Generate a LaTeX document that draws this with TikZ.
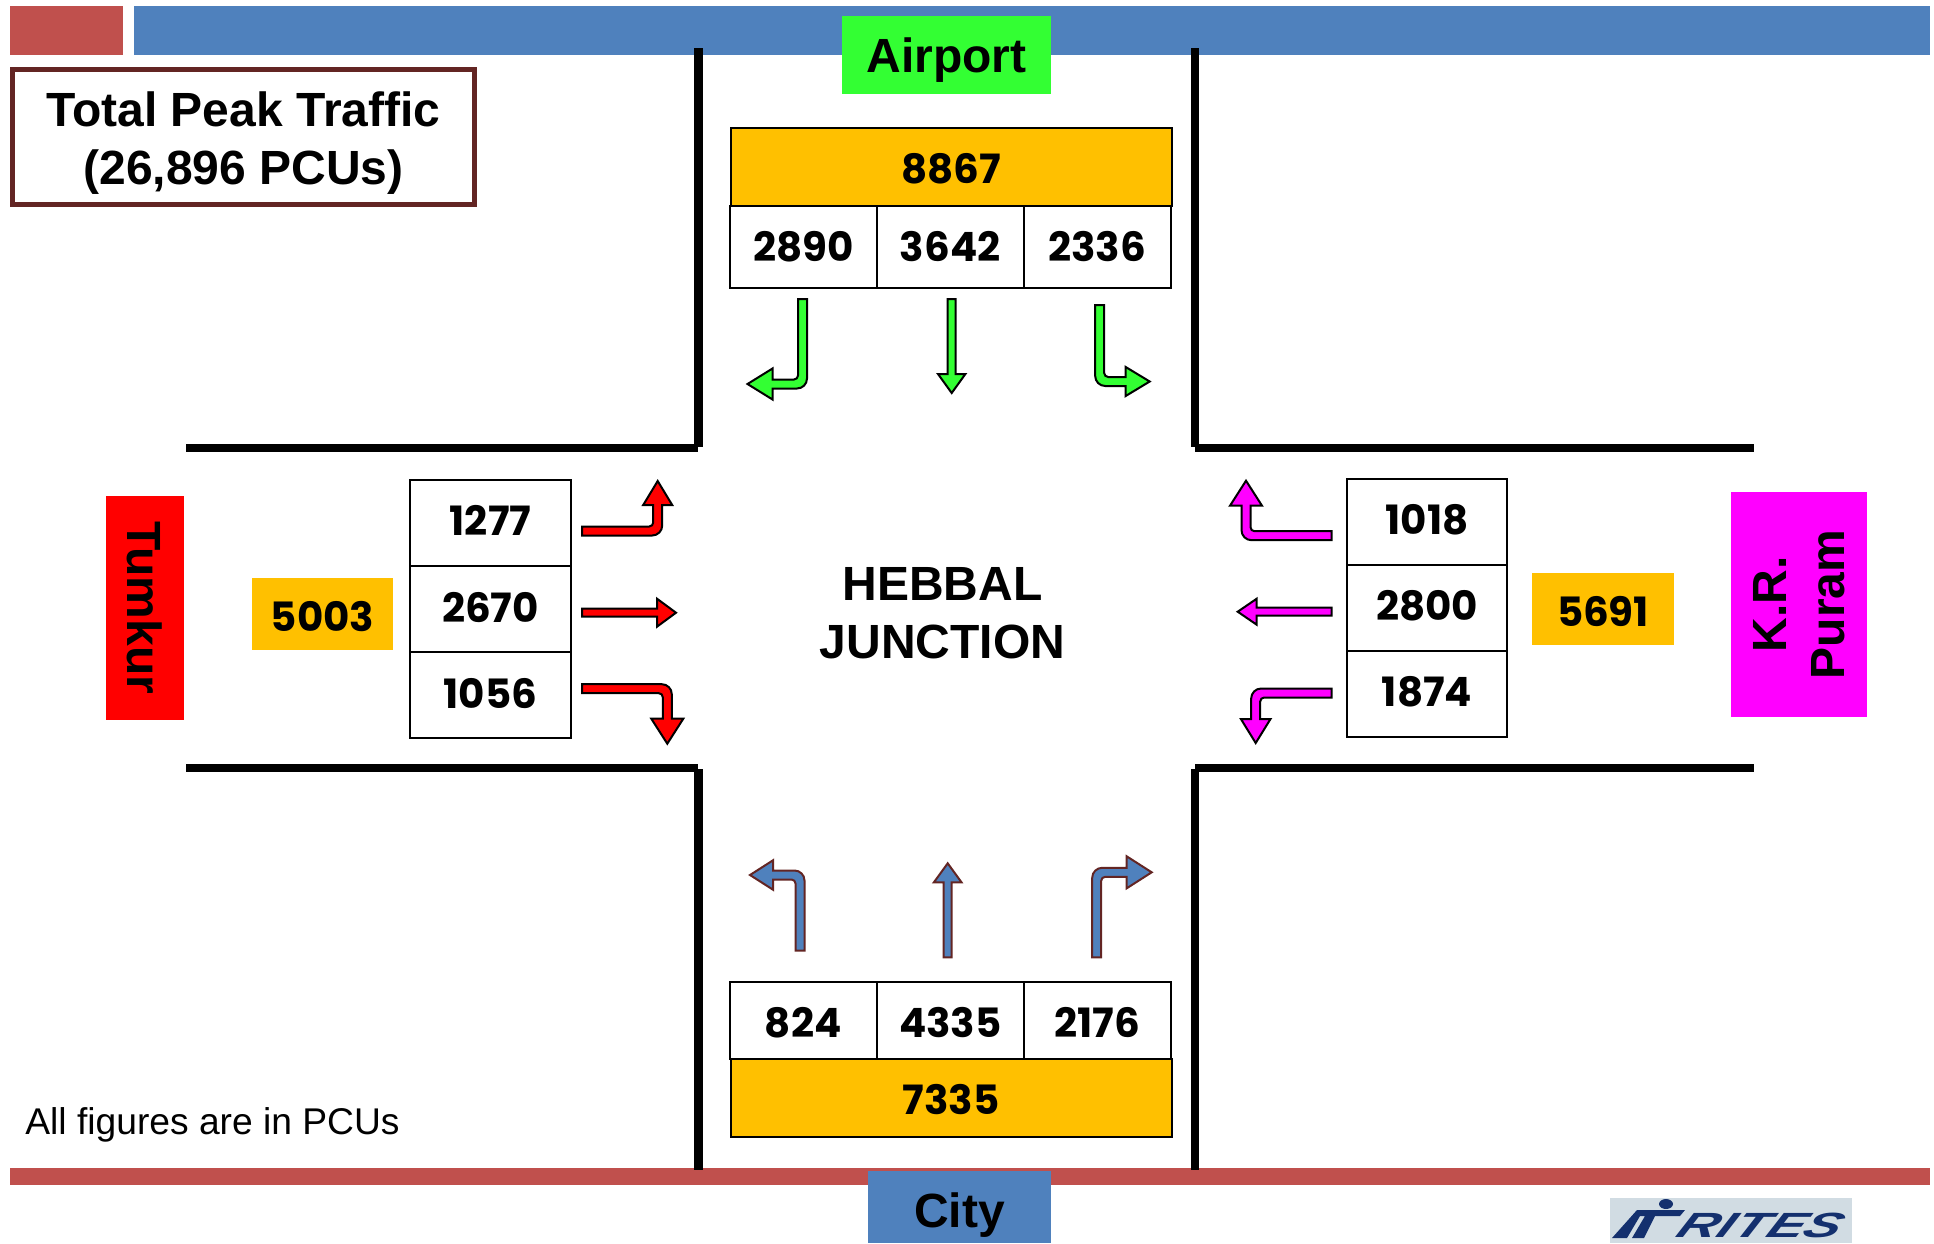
\documentclass[tikz,border=0pt]{standalone}
\usepackage{fontspec}
\usepackage{tikz}
\usetikzlibrary{positioning}
\setmainfont{Liberation Sans}
\newfontfamily\numfont{Poppins}
\definecolor{barblue}{HTML}{4F81BD}
\definecolor{barred}{HTML}{C0504D}
\definecolor{darkred}{HTML}{632523}
\definecolor{gold}{HTML}{FFC000}
\definecolor{signgreen}{HTML}{33FF33}
\definecolor{signpink}{HTML}{FF00FF}
\definecolor{signred}{HTML}{FF0000}
\definecolor{logogrey}{HTML}{D1DCE3}
\definecolor{logonavy}{HTML}{14306E}
\newcommand{\nudge}[2]{\raisebox{#1}[\height][\depth]{#2}}
% style, start, first direction, turn direction, run, rise, head length, head half width
\newcommand{\bendarrow}[8]{%
  \begin{scope}[shift={(#2)},x={(#3:0.5pt)},y={(#4:0.5pt)}]
    \filldraw[#1] (0,-4.5) [rounded corners=5pt] -- ({#5+4.5},-4.5) [sharp corners]
      -- ({#5+4.5},{#6-#7}) -- ({#5+#8},{#6-#7}) -- (#5,#6) -- ({#5-#8},{#6-#7})
      -- ({#5-4.5},{#6-#7}) [rounded corners=2pt] -- ({#5-4.5},4.5) [sharp corners] -- (0,4.5) -- cycle;
  \end{scope}}
% style, start, direction, length, head length, head half width
\newcommand{\flowarrow}[6]{%
  \begin{scope}[shift={(#2)},x={(#3:0.5pt)},y={(#3+90:0.5pt)}]
    \filldraw[#1] (0,-4) -- ({#4-#5},-4) -- ({#4-#5},{-#6}) -- (#4,0)
      -- ({#4-#5},#6) -- ({#4-#5},4) -- (0,4) -- cycle;
  \end{scope}}

\begin{document}
\begin{tikzpicture}[x=0.5pt, y=-0.5pt]
    \tikzstyle{road} = [black, line width=4.2pt]
    \tikzstyle{cell} = [rectangle, draw=black, line width=1pt, inner sep=0pt, outer sep=0pt, font=\numfont\bfseries\fontsize{20.2}{24}\selectfont]
    \tikzstyle{total} = [rectangle, fill=gold, inner sep=0pt, outer sep=0pt, font=\numfont\bfseries\fontsize{20.2}{24}\selectfont]
    \tikzstyle{place} = [rectangle, inner sep=0pt, outer sep=0pt, align=center, font=\bfseries\fontsize{24}{29}\selectfont]
    \tikzstyle{greenarrow} = [fill=signgreen, draw=black, line width=1pt]
    \tikzstyle{redarrow} = [fill=signred, draw=black, line width=1pt]
    \tikzstyle{pinkarrow} = [fill=signpink, draw=black, line width=1pt]
    \tikzstyle{bluearrow} = [fill=barblue, draw=darkred, line width=1pt]
    \useasboundingbox (0,0) rectangle (1934,1243);
    % header and footer bars
    \fill[barred] (10,6) rectangle (123,55);
    \fill[barblue] (134,6) rectangle (1930,55);
    \fill[barred] (10,1168) rectangle (1930,1185);
    % roads
    \draw[road] (698.5,48) -- (698.5,447); \draw[road] (186,448) -- (698,448);
    \draw[road] (1195,48) -- (1195,447); \draw[road] (1195,448) -- (1754,448);
    \draw[road] (186,768) -- (698,768); \draw[road] (698.5,769) -- (698.5,1170);
    \draw[road] (1195,768) -- (1754,768); \draw[road] (1195,769) -- (1195,1170);
    % place names
    \node (airport) [place, fill=signgreen, minimum width=104.5pt, minimum height=39pt] at (946.5,55) {\nudge{-2.5pt}{Airport}};
    \node (city) [place, fill=barblue, minimum width=91.5pt, minimum height=36pt] at (959.5,1207) {\nudge{-4pt}{City}};
    \node (tumkur) [place, fill=signred, minimum width=112pt, minimum height=39pt, rotate=-90] at (145,608) {Tumkur};
    \node (krpuram) [place, fill=signpink, minimum width=112.5pt, minimum height=68pt, rotate=90] at (1799,604.5) {K.R.\\Puram};
    \node (junction) [place] at (942.5,613) {HEBBAL\\JUNCTION};
    \node (peak) [place, draw=darkred, line width=2.2pt, minimum width=231pt, minimum height=67.5pt] at (243.5,137) {\rule{0pt}{23pt}Total Peak Traffic\\(26,896 PCUs)};
    \node (note) [anchor=west, inner sep=0pt, font=\fontsize{18.6}{22}\selectfont] at (25,1125) {All figures are in PCUs};
    % airport table
    \node (airtotal) [total, draw=black, line width=1pt, minimum width=220.5pt, minimum height=39pt] at (951,166.5) {\nudge{-1pt}{8867}};
    \node (airleft) [cell, minimum width=73.5pt, minimum height=41pt] at (803.25,246.5) {2890};
    \node (airthru) [cell, right=0pt of airleft, minimum width=73.5pt, minimum height=41pt] {3642};
    \node (airright) [cell, right=0pt of airthru, minimum width=73.5pt, minimum height=41pt] {2336};
    % city table
    \node (cityleft) [cell, minimum width=73.5pt, minimum height=38.5pt] at (803.25,1020.5) {\nudge{-1pt}{824}};
    \node (citythru) [cell, right=0pt of cityleft, minimum width=73.5pt, minimum height=38.5pt] {\nudge{-1pt}{4335}};
    \node (cityright) [cell, right=0pt of citythru, minimum width=73.5pt, minimum height=38.5pt] {\nudge{-1pt}{2176}};
    \node (citytotal) [total, draw=black, line width=1pt, minimum width=220.5pt, minimum height=39pt] at (951,1098) {\nudge{-1pt}{7335}};
    % tumkur table
    \node (tumtop) [cell, minimum width=80.5pt, minimum height=43pt] at (490.5,523) {\nudge{1.5pt}{1277}};
    \node (tummid) [cell, below=0pt of tumtop, minimum width=80.5pt, minimum height=43pt] {\nudge{1pt}{2670}};
    \node (tumlow) [cell, below=0pt of tummid, minimum width=80.5pt, minimum height=43pt] {\nudge{0.5pt}{1056}};
    \node (tumtotal) [total, minimum width=70.5pt, minimum height=36pt] at (322.5,613.5) {\nudge{-1.5pt}{5003}};
    % puram table
    \node (krtop) [cell, minimum width=80pt, minimum height=43pt] at (1427,522) {\nudge{1pt}{1018}};
    \node (krmid) [cell, below=0pt of krtop, minimum width=80pt, minimum height=43pt] {\nudge{1pt}{2800}};
    \node (krlow) [cell, below=0pt of krmid, minimum width=80pt, minimum height=43pt] {\nudge{1pt}{1874}};
    \node (krtotal) [total, minimum width=71pt, minimum height=36pt] at (1603,608.5) {\nudge{-1.5pt}{5691}};
    % movement arrows
    \bendarrow{greenarrow}{802.5,299}{270}{180}{85}{55}{25}{15.5}
    \flowarrow{greenarrow}{951.7,299}{270}{94}{19}{13.7}
    \bendarrow{greenarrow}{1099.7,305}{270}{0}{76.5}{50}{24}{14.5}
    \bendarrow{redarrow}{582,531}{0}{90}{75.7}{50}{24}{14.5}
    \flowarrow{redarrow}{582,612.7}{0}{94}{19}{14}
    \bendarrow{redarrow}{582,688.7}{0}{270}{85.3}{55}{25}{16}
    \bendarrow{pinkarrow}{1331.7,535.7}{180}{90}{85.7}{55}{25}{16}
    \flowarrow{pinkarrow}{1331.7,611.7}{180}{94}{19}{13}
    \bendarrow{pinkarrow}{1331.7,693}{180}{270}{76}{50}{24}{14.8}
    \bendarrow{bluearrow}{800,950.7}{90}{180}{75.7}{50}{23}{14.7}
    \flowarrow{bluearrow}{947.7,957.3}{90}{94}{19}{13.8}
    \bendarrow{bluearrow}{1096.7,957.3}{90}{0}{85}{55}{25}{16}
    % logo
    \node (logo) [rectangle, fill=logogrey, inner sep=0pt, minimum width=121pt, minimum height=22.5pt] at (1731,1220.5) {};
    \fill[logonavy] (1666,1204) ellipse (7 and 5);
    \fill[logonavy] (1637,1210) -- (1685,1210) -- (1680,1216) -- (1655,1216) -- (1644,1238) -- (1632,1238) -- (1645,1216) -- (1640,1216) -- (1627,1238) -- (1612,1238) -- cycle;
    \node (rites) [anchor=west, text=logonavy, inner sep=0pt, xscale=1.58, xslant=0.3, transform shape, font=\bfseries\itshape\fontsize{17.5}{20}\selectfont] at (1680,1225) {RITES};
\end{tikzpicture}
\end{document}
